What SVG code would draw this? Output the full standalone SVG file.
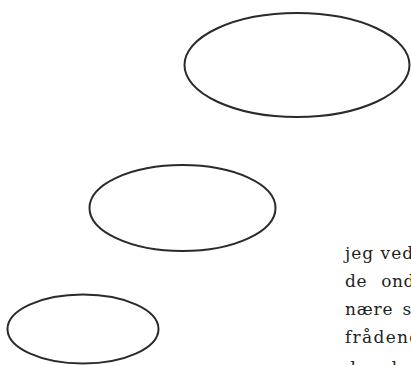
<svg xmlns="http://www.w3.org/2000/svg" width="411" height="365" viewBox="0 0 411 365">
<style>
.node{fill:#ffffff;stroke:#2b2a29;stroke-width:2}
.body{font-family:"DejaVu Serif","Liberation Serif",serif;font-size:17px;fill:#231f20}
</style>
<rect width="411" height="365" fill="#ffffff"/>
<g id="connectors"></g>
<g id="node-top"><ellipse class="node" cx="297" cy="65" rx="112.5" ry="52"/></g>
<g id="node-middle"><ellipse class="node" cx="182.5" cy="208" rx="93" ry="43"/></g>
<g id="node-bottom"><ellipse class="node" cx="83" cy="329" rx="75.5" ry="34.5"/></g>
<g id="text-column">
<text class="body" x="345" y="259" letter-spacing="1">jeg ved</text>
<text class="body" x="345" y="287" letter-spacing="0.6" word-spacing="8">de ond</text>
<text class="body" x="345" y="315" letter-spacing="0.8" word-spacing="3">nære s</text>
<text class="body" x="345" y="343" letter-spacing="1.3">frådend</text>
<text class="body" x="345" y="374" word-spacing="4">de ud</text>
</g>
</svg>
